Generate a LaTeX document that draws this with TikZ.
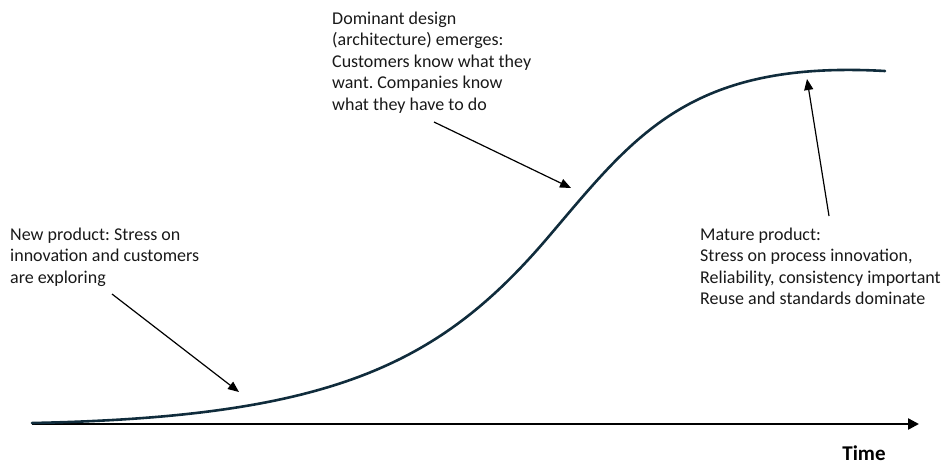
\documentclass[tikz,border=0pt]{standalone}
\usepackage{fontspec}
\setmainfont{Carlito}
\frenchspacing
\usetikzlibrary{arrows.meta}
\definecolor{curveblue}{RGB}{16,44,60}
\tikzset{
  note/.style={anchor=base west, inner sep=0pt, align=left,
    font=\fontsize{18}{21.5}\selectfont, text=black!90},
  pointer/.style={draw=black, line width=1.2pt,
    -{Triangle[length=11pt,width=9pt]}},
  axis/.style={draw=black, line width=2.4pt,
    -{Triangle[length=11pt,width=11pt]}},
  scurve/.style={draw=curveblue, line width=2.6pt, line cap=round}
}
\begin{document}
\begin{tikzpicture}[x=1pt,y=-1pt]
  \useasboundingbox (0,0) rectangle (944,464);
  % time axis
  \coordinate (origin) at (32,424);
  \coordinate (axisend) at (919,424);
  \draw[axis] (origin) -- (axisend);
  \node[anchor=base, inner sep=0pt, font=\fontsize{21}{24}\selectfont\bfseries] (time) at (864,460) {Time};
  % S-curve of product evolution: slow start, inflection, saturation
  \coordinate (sstart) at (32,423);
  \coordinate (sinflect) at (550,235);
  \coordinate (send) at (885,71);
  \draw[scurve] (sstart) .. controls (332,417) and (440,365) .. (sinflect)
                         .. controls (635,135) and (690,60) .. (send);
  % annotations (anchored at the baseline of their last line)
  \node[note] (newprod) at (10,283) {New product: Stress on\\innovation and customers\\are exploring};
  \node[note] (dominant) at (332,110) {Dominant design\\(architecture) emerges:\\Customers know what they\\want. Companies know\\what they have to do};
  \node[note] (mature) at (700,304.5) {Mature product:\\Stress on process innovation,\\Reliability, consistency important\\Reuse and standards dominate};
  % pointer ends
  \coordinate (newtail) at (112,294);
  \coordinate (newtip) at (239,392);
  \coordinate (domtail) at (434,122);
  \coordinate (domtip) at (571,188);
  \coordinate (mattail) at (829,216);
  \coordinate (mattip) at (807,79);
  \draw[pointer] (newtail) -- (newtip);
  \draw[pointer] (domtail) -- (domtip);
  \draw[pointer] (mattail) -- (mattip);
\end{tikzpicture}
\end{document}
